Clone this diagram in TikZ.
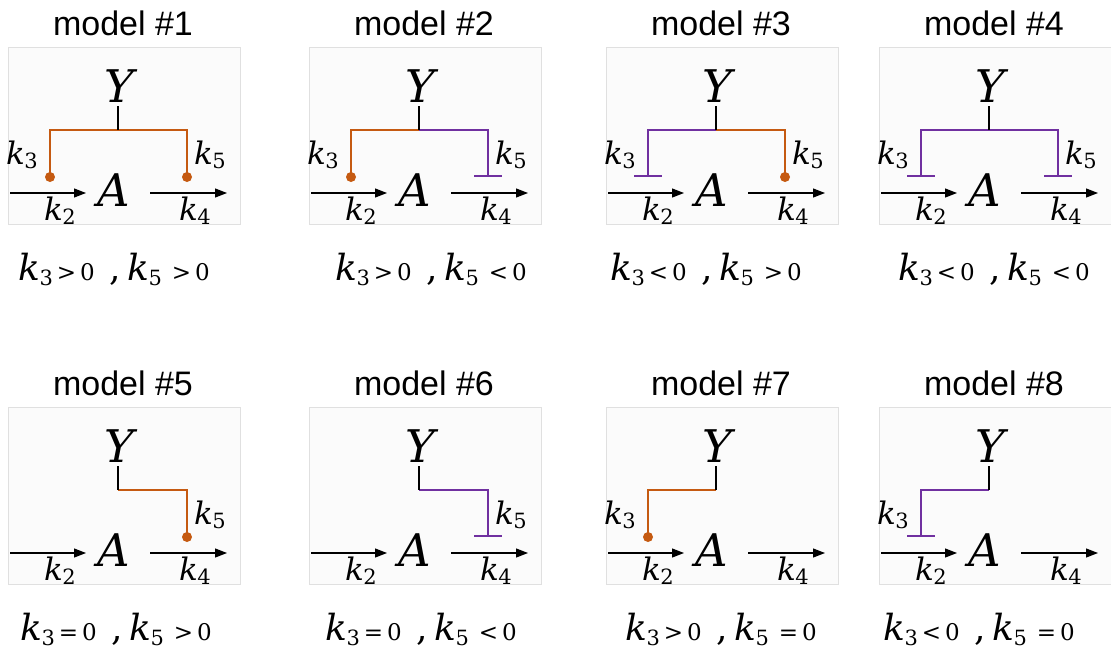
\RequirePackage{fix-cm}
\documentclass[tikz,border=0pt]{standalone}
\usepackage{fontspec}
\newfontfamily\titlefont{Liberation Sans}
\newfontfamily\varfont{DejaVu Serif}
\usetikzlibrary{arrows.meta}
\definecolor{actc}{HTML}{C55A11}
\definecolor{inhc}{HTML}{7030A0}
\definecolor{panelbg}{HTML}{FBFBFB}
\definecolor{panelln}{HTML}{E0E0E0}
\tikzset{
  panelbox/.style={draw=panelln, fill=panelbg, line width=0.8pt},
  titletext/.style={font=\titlefont\fontsize{34}{38}\selectfont, anchor=base, inner sep=0pt},
  bigvar/.style={font=\varfont\itshape\fontsize{45}{48}\selectfont, inner sep=0pt},
  klabel/.style={inner sep=0pt, anchor=base west},
  condtext/.style={inner sep=0pt, anchor=base west},
  flow/.style={line width=1.2pt, -{Triangle[length=12pt,width=9pt]}},
  stub/.style={line width=2.2pt, black},
  actline/.style={line width=2.8pt, actc},
  inhline/.style={line width=2.8pt, inhc},
  actdot/.style={circle, fill=actc, inner sep=0pt, minimum size=10pt},
}
% k with an upright subscript: #1 size, #2 subscript size, #3 subscript, #4 drop
\newcommand\kv[4]{{\fontsize{#1}{#1}\selectfont\varfont\itshape k\/\kern-0.5pt\raisebox{-#4}{\varfont\upshape\fontsize{#2}{#2}\selectfont #3}}}
\newcommand\kl[1]{\kv{31}{21}{#1}{4.5pt}}
% left / right regulation drawers (local coordinates inside the panel scope)
\newcommand\actL[1]{%
  \coordinate (l#1) at (40,177);
  \draw[actline] (j#1) -| (l#1);
  \node[actdot] (ld#1) at (l#1) {};}
\newcommand\inhL[1]{%
  \coordinate (l#1) at (40,176);
  \coordinate (lb1#1) at (26,176);
  \coordinate (lb2#1) at (54,176);
  \draw[inhline] (j#1) -| (l#1);
  \draw[inhline] (lb1#1) -- (lb2#1);}
\newcommand\actR[1]{%
  \coordinate (r#1) at (177,177);
  \draw[actline] (j#1) -| (r#1);
  \node[actdot] (rd#1) at (r#1) {};}
\newcommand\inhR[1]{%
  \coordinate (r#1) at (177,176);
  \coordinate (rb1#1) at (163,176);
  \coordinate (rb2#1) at (191,176);
  \draw[inhline] (j#1) -| (r#1);
  \draw[inhline] (rb1#1) -- (rb2#1);}
\newcommand\noneX[1]{}
% #1 id, #2 x0, #3 y offset, #4 left drawer, #5 right drawer
\newcommand\modelpanel[5]{%
\begin{scope}[shift={(#2,#3)}]
  \path[panelbox] (-2,47) rectangle (230,224);
  \node[titletext] (t#1) at (113,35) {model \##1};
  \node[bigvar] (Y#1) at (109,86) {Y};
  \node[bigvar] (A#1) at (104,190) {A};
  \coordinate (s#1) at (108,106);
  \coordinate (j#1) at (108,130);
  #4{#1}
  #5{#1}
  \draw[stub] (s#1) -- (j#1);
  \coordinate (i1#1) at (0,193);
  \coordinate (i2#1) at (76,193);
  \coordinate (o1#1) at (140,193);
  \coordinate (o2#1) at (217,193);
  \draw[flow] (i1#1) -- (i2#1);
  \draw[flow] (o1#1) -- (o2#1);
  \node[klabel] (k2#1) at (34,220) {\kl{2}};
  \node[klabel] (k4#1) at (169,220) {\kl{4}};
  \ifx#4\noneX\else\node[klabel] (k3#1) at (-4,164) {\kl{3}};\fi
  \ifx#5\noneX\else\node[klabel] (k5#1) at (184,164) {\kl{5}};\fi
\end{scope}}
\newcommand\bigk[1]{\kv{36}{21}{#1}{5pt}}
\newcommand\smallrel[1]{{\varfont\fontsize{23}{25}\selectfont #1\hspace{4pt}0}}
\newcommand\cond[2]{\bigk{3}\hspace{4pt}\smallrel{#1}\hspace{15pt}{\varfont\fontsize{36}{38}\selectfont ,}\hspace{6pt}\bigk{5}\hspace{10pt}\smallrel{#2}}
\begin{document}
\begin{tikzpicture}[x=1pt,y=-1pt]
  \path[use as bounding box] (0,0) rectangle (1111,653);
  \modelpanel{1}{10}{0}{\actL}{\actR}
  \modelpanel{2}{311}{0}{\actL}{\inhR}
  \modelpanel{3}{608}{0}{\inhL}{\actR}
  \modelpanel{4}{881}{0}{\inhL}{\inhR}
  \modelpanel{5}{10}{360}{\noneX}{\actR}
  \modelpanel{6}{311}{360}{\noneX}{\inhR}
  \modelpanel{7}{608}{360}{\actL}{\noneX}
  \modelpanel{8}{881}{360}{\inhL}{\noneX}
  \node[condtext] (c1) at (18,280) {\cond{>}{>}};
  \node[condtext] (c2) at (335,280) {\cond{>}{<}};
  \node[condtext] (c3) at (610,280) {\cond{<}{>}};
  \node[condtext] (c4) at (898,280) {\cond{<}{<}};
  \node[condtext] (c5) at (20,640) {\cond{=}{>}};
  \node[condtext] (c6) at (325,640) {\cond{=}{<}};
  \node[condtext] (c7) at (625,640) {\cond{>}{=}};
  \node[condtext] (c8) at (883,640) {\cond{<}{=}};
\end{tikzpicture}
\end{document}
